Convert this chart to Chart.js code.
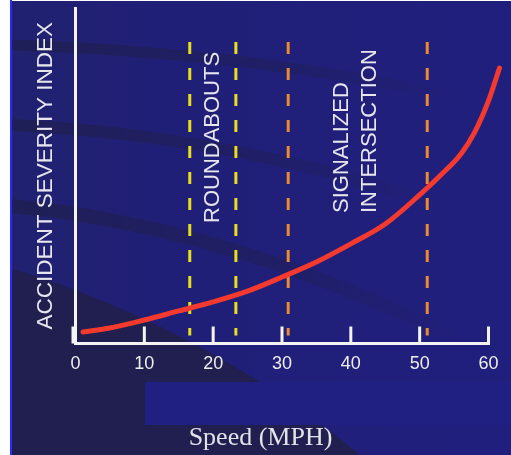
<!DOCTYPE html>
<html><head><meta charset="utf-8">
<script src="https://cdn.jsdelivr.net/npm/chart.js@4.4.0/dist/chart.umd.min.js"></script>
<style>html,body{margin:0;padding:0;background:#fff;overflow:hidden}#wrap{width:511px;height:455px;position:relative}</style>
</head><body><div id="wrap"><canvas id="c" width="511" height="455"></canvas></div>
<script>
// ---- data ----
const speeds   = [1.1, 5, 10, 15, 20, 25, 30, 35, 40, 45, 50, 53, 56, 58, 60, 61.6];
const severity = [3.4, 4.6, 7.0, 9.7, 12.4, 15.6, 19.8, 24.3, 29.7, 35.6, 44.3, 50.1, 56.5, 63.0, 72.3, 82.1];
const xTicks = [0, 10, 20, 30, 40, 50, 60];
const roundaboutSpeeds = [16.6, 23.3];
const signalSpeeds = [30.9, 51.1];
const markerRange = [89.9, 2.4];   // top and bottom of the dashed speed markers (index units)
const yTitle = 'ACCIDENT SEVERITY INDEX';
const xTitle = 'Speed (MPH)';
const roundaboutLabel = 'ROUNDABOUTS';
const signalLabels = ['SIGNALIZED', 'INTERSECTION'];

const SANS = '"Liberation Sans", Arial, Helvetica, sans-serif';
const SERIF = '"Liberation Serif", "Times New Roman", serif';
const AXIS_COLOR = '#f4f4f4';

const bgPlugin = {
  id: 'bg',
  beforeDraw(chart) {
    const ctx = chart.ctx, W = chart.width, H = chart.height;
    ctx.save();
    ctx.fillStyle = '#ffffff'; ctx.fillRect(0, 0, W, H);
    const g = ctx.createLinearGradient(11, 0, W, 0);
    g.addColorStop(0, '#212170'); g.addColorStop(0.3, '#201f77'); g.addColorStop(1, '#211f7d');
    ctx.fillStyle = g; ctx.fillRect(11, 1, W - 11, H - 1);
    const band = (x0, y0, cx, cy, x1, y1, w) => {
      const sg = ctx.createLinearGradient(x0, 0, x1, 0);
      sg.addColorStop(0, 'rgba(30,30,70,0.6)');
      sg.addColorStop(0.6, 'rgba(30,30,70,0.35)');
      sg.addColorStop(1, 'rgba(30,30,70,0)');
      ctx.strokeStyle = sg; ctx.lineWidth = w;
      ctx.beginPath(); ctx.moveTo(x0, y0); ctx.quadraticCurveTo(cx, cy, x1, y1); ctx.stroke();
    };
    band(11, 45, 250, 52, 460, 98, 11);
    band(11, 125, 230, 135, 440, 205, 12);
    band(11, 206, 230, 226, 470, 345, 14);
    ctx.fillStyle = '#201f50';
    ctx.beginPath(); ctx.moveTo(11, 268); ctx.quadraticCurveTo(210, 330, 360, 455);
    ctx.lineTo(11, 455); ctx.closePath(); ctx.fill();
    ctx.fillStyle = '#201f82'; ctx.fillRect(145, 382, W - 145, 43);
    ctx.fillStyle = '#2a2aff'; ctx.fillRect(10, 0, 2, H);
    ctx.restore();
  }
};

const decoPlugin = {
  id: 'deco',
  afterDatasetsDraw(chart) {
    const ctx = chart.ctx, xs = chart.scales.x, a = chart.chartArea;
    ctx.save();
    // x axis line from first to last tick
    const x0 = xs.getPixelForValue(xTicks[0]), x1 = xs.getPixelForValue(xTicks[xTicks.length - 1]);
    ctx.strokeStyle = AXIS_COLOR; ctx.lineWidth = 3; ctx.lineCap = 'butt';
    ctx.beginPath(); ctx.moveTo(x0 - 1.5, a.bottom); ctx.lineTo(x1 + 1.5, a.bottom); ctx.stroke();
    // tick marks pointing up into the plot
    xTicks.forEach(v => {
      let px = xs.getPixelForValue(v);
      if (v === 0) px -= 2.5;
      ctx.beginPath(); ctx.moveTo(px, a.bottom - 17); ctx.lineTo(px, a.bottom); ctx.stroke();
    });
    // rotated region labels
    ctx.fillStyle = '#e6e6ee';
    ctx.font = '22px ' + SANS;
    ctx.textBaseline = 'middle'; ctx.textAlign = 'left';
    const rot = (t, cx, sy) => { ctx.save(); ctx.translate(cx, sy); ctx.rotate(-Math.PI / 2); ctx.fillText(t, 0, 0); ctx.restore(); };
    const rMid = xs.getPixelForValue((roundaboutSpeeds[0] + roundaboutSpeeds[1]) / 2);
    rot(roundaboutLabel, rMid, a.bottom - 120.5);
    const sMid = xs.getPixelForValue((signalSpeeds[0] + signalSpeeds[1]) / 2);
    rot(signalLabels[0], sMid - 16, a.bottom - 130.5);
    rot(signalLabels[1], sMid + 12, a.bottom - 130.5);
    ctx.restore();
  }
};

const markerSet = (s, color) => ({
  data: [{x: s, y: markerRange[0]}, {x: s, y: markerRange[1]}],
  borderColor: color, borderWidth: 3, borderDash: [12, 14], pointRadius: 0, tension: 0
});

new Chart(document.getElementById('c'), {
  type: 'line',
  data: {
    datasets: [
      {
        data: speeds.map((s, i) => ({x: s, y: severity[i]})),
        borderColor: '#f43a2e', borderWidth: 5, pointRadius: 0,
        cubicInterpolationMode: 'monotone', clip: false, borderCapStyle: 'round'
      },
      ...roundaboutSpeeds.map(s => markerSet(s, '#e8de1e')),
      ...signalSpeeds.map(s => markerSet(s, '#ea8a32'))
    ]
  },
  options: {
    responsive: false, animation: false, devicePixelRatio: 1,
    layout: {padding: {left: 10, right: 0, top: 8, bottom: 0}},
    plugins: {
      legend: {display: false}, tooltip: {enabled: false},
      title: {
        display: true, position: 'bottom', text: xTitle, color: '#e2e2e8',
        font: {family: SERIF, size: 26, weight: 'normal', lineHeight: 1.2},
        padding: {top: 0, bottom: 1}
      }
    },
    scales: {
      x: {
        type: 'linear', min: 0, max: Math.max(...speeds), position: 'bottom',
        afterFit: s => { s.height = 79.3; },
        afterBuildTicks: s => { s.ticks = xTicks.map(v => ({value: v})); },
        border: {display: false},
        grid: {display: false, drawTicks: false},
        ticks: {color: '#eeeeee', font: {family: SANS, size: 18}, padding: 10, maxRotation: 0, autoSkip: false}
      },
      y: {
        type: 'linear', min: 0, max: 100, position: 'left',
        afterFit: s => { s.width = 65.5; },
        border: {display: true, color: AXIS_COLOR, width: 3},
        grid: {display: false, drawTicks: false},
        ticks: {display: false},
        title: {display: true, text: yTitle, color: '#e6e6ee', font: {family: SANS, size: 22.5}, padding: {top: 22.3, bottom: 0}}
      },
      yRight: {
        axis: 'y', type: 'linear', position: 'right', display: true,
        afterFit: s => { s.width = 11.5; },
        border: {display: false}, grid: {display: false, drawTicks: false}, ticks: {display: false}
      }
    }
  },
  plugins: [bgPlugin, decoPlugin]
});
</script>
</body></html>
